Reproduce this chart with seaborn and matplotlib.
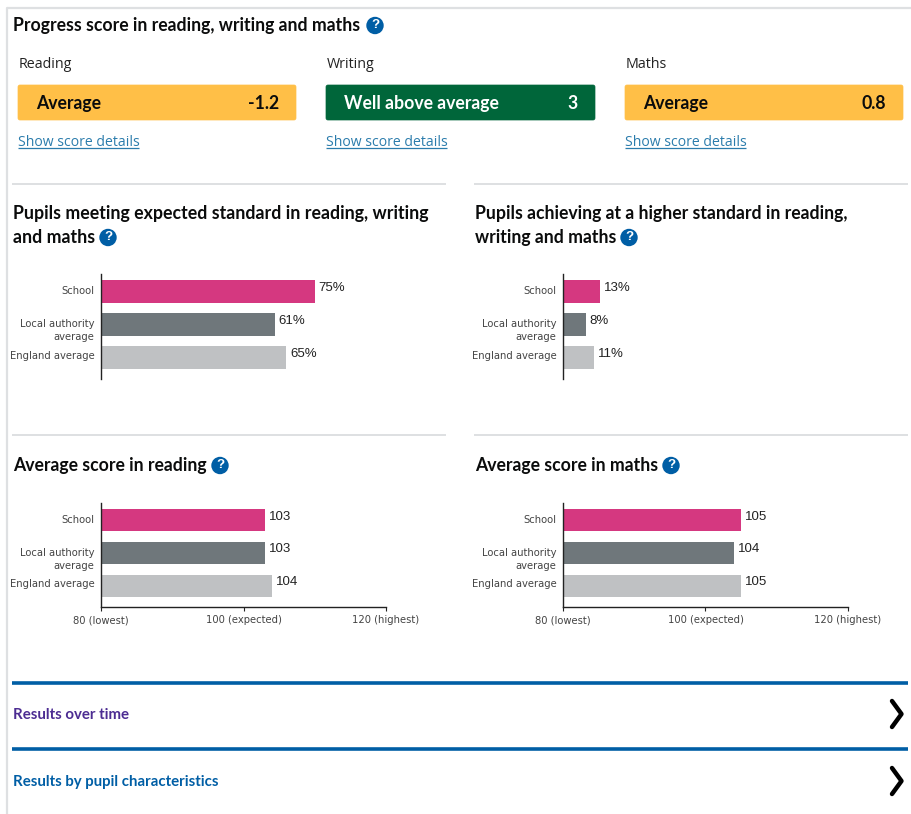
import matplotlib
matplotlib.use('Agg')
import matplotlib.pyplot as plt
from matplotlib.patches import Circle, FancyBboxPatch
from matplotlib.transforms import ScaledTranslation
import pandas as pd
import seaborn as sns

sns.set_theme(style="white")
plt.rcParams['font.family'] = ['DejaVu Sans']

# ── DATA ─────────────────────────────────────────
GROUPS = ["School", "Local authority\naverage", "England average"]
EXPECTED_PCT = [75, 61, 65]
HIGHER_PCT = [13, 8, 11]
READING_SCORE = [103, 103, 104]
MATHS_SCORE = [105, 104, 105]
SCORE_TICKS = [80, 100, 120]
SCORE_TICK_LABELS = ["80 (lowest)", "100 (expected)", "120 (highest)"]
SUBJECTS = ["Reading", "Writing", "Maths"]
BANDS = ["Average", "Well above average", "Average"]
PROGRESS = ["-1.2", "3", "0.8"]

W, H = 912, 814
PINK, DARK, LIGHT = "#D53880", "#6F777B", "#BFC1C3"
AMBER, GREEN = "#FFBF47", "#00663A"
BLUE, PURPLE, INK = "#005EA5", "#4C2C92", "#0B0C0C"
LINK = "#2B7CAC"
RULE = "#DEE0E2"
HEAD = "Lato"
BODY = "Open Sans"

fig = plt.figure(figsize=(W / 100, H / 100), dpi=100, facecolor="white")

# page layer, in pixels from the top left
page = fig.add_axes([0, 0, 1, 1])
page.set_xlim(0, W)
page.set_ylim(H, 0)
page.axis("off")


def rule(x0, x1, y, color=RULE, lw=1.4):
    page.plot([x0, x1], [y, y], color=color, lw=lw, solid_capstyle="butt")


def heading(x, y, lines, icon_x, size=12.7):
    # one text per line, the icon goes after the last one
    for i, line in enumerate(lines):
        page.text(x, y + i * 24, line, fontsize=size, fontweight="bold", family=HEAD,
                  color=INK, va="center", ha="left")
    icon_y = y + (len(lines) - 1) * 24
    page.add_patch(Circle((icon_x, icon_y), 8.7, color=BLUE, lw=0))
    page.text(icon_x, icon_y, "?", color="white", fontsize=9.5, fontweight="bold",
              ha="center", va="center", family="Liberation Sans")


# outer frame
page.plot([7.5, 7.5], [8, H], color=RULE, lw=1.6)
rule(7, W, 8, lw=1.6)

heading(13, 25.5, ["Progress score in reading, writing and maths"], 375)

# progress badges
for subject, band, score, x0, x1, bg, fg in zip(
        SUBJECTS, BANDS, PROGRESS, [18, 326, 625], [296, 595, 903],
        [AMBER, GREEN, AMBER], [INK, "white", INK]):
    page.text(x0 + 1, 65, subject, fontsize=10.3, family=BODY, color="#222222", va="center")
    page.add_patch(FancyBboxPatch((x0 + 1, 86), x1 - x0 - 2, 33, facecolor=bg, edgecolor=bg,
                                  lw=0.5, boxstyle="round,pad=1,rounding_size=2"))
    page.text(x0 + 18, 103.5, band, fontsize=12.7, fontweight="bold", family=HEAD, color=fg, va="center")
    page.text(x1 - 17, 103.5, score, fontsize=12.7, fontweight="bold", family=HEAD, color=fg,
              va="center", ha="right")
    page.text(x0, 143, "Show score details", fontsize=10.1, family=BODY, color=LINK, va="center")
    rule(x0, x0 + 121, 148, color=LINK, lw=0.9)

for y in (183.5, 435):
    rule(12, 446, y)
    rule(474, 908, y)

heading(13, 213.5, ["Pupils meeting expected standard in reading, writing", "and maths"], 108, size=12.8)
heading(475, 213.5, ["Pupils achieving at a higher standard in reading,", "writing and maths"], 629)
heading(13, 465.5, ["Average score in reading"], 220)
heading(475, 465.5, ["Average score in maths"], 671)

rule(12, 908, 682.5, color=BLUE, lw=2.6)
rule(12, 908, 748.5, color=BLUE, lw=2.6)
page.text(13, 715, "Results over time", fontsize=10.8, fontweight="bold", family=HEAD, color=PURPLE, va="center")
page.text(13, 782, "Results by pupil characteristics", fontsize=10.8, fontweight="bold", family=HEAD, color=BLUE, va="center")
for y in (714, 781):
    page.plot([892, 901.5, 892], [y - 13, y, y + 13], color="black", lw=3.2,
              solid_capstyle="round", solid_joinstyle="round")


def bar_panel(left, top, bottom, values, xlim, suffix="", ticks=None, tick_labels=None):
    ax = fig.add_axes([left / W, 1 - bottom / H, 285 / W, (bottom - top) / H])
    df = pd.DataFrame({"group": GROUPS, "value": values})
    sns.barplot(data=df, y="group", x="value", hue="group", palette=[PINK, DARK, LIGHT],
                dodge=False, legend=False, width=0.68, saturation=1, ax=ax, linewidth=0)
    ax.set_xlim(*xlim)
    ax.set_ylim(2.65, -0.53)
    ax.set_xlabel("")
    ax.set_ylabel("")
    ax.patch.set_alpha(0)
    sns.despine(ax=ax, right=True, top=True, bottom=ticks is None)
    for side in ("left", "bottom"):
        ax.spines[side].set_color("#222222")
        ax.spines[side].set_linewidth(1.0)
    ax.tick_params(axis="y", length=0, pad=4.7, labelsize=7.2, labelcolor="#444444")
    # category labels sit a little off the bar centres
    for lab, dy in zip(ax.get_yticklabels(), [1.5, -3.5, 2.5]):
        lab.set_linespacing(1.4)
        lab.set_transform(lab.get_transform() + ScaledTranslation(0, dy / 100, fig.dpi_scale_trans))
    if ticks is None:
        ax.set_xticks([])
    else:
        ax.set_xticks(ticks)
        ax.set_xticklabels(tick_labels)
        ax.tick_params(axis="x", length=3, width=0.8, color="#222222", pad=2.8,
                       labelsize=7.2, labelcolor="#444444", bottom=True)
    for i, v in enumerate(values):
        ax.annotate(f"{v}{suffix}", (v, i), xytext=(2.8, 2.6), textcoords="offset points",
                    fontsize=9.5, family="Liberation Sans", color="#222222", va="center", ha="left")
    return ax


bar_panel(101, 274, 379, EXPECTED_PCT, (0, 100), "%")
bar_panel(563, 274, 379, HIGHER_PCT, (0, 100), "%")
bar_panel(101, 503, 607, READING_SCORE, (80, 120), "", SCORE_TICKS, SCORE_TICK_LABELS)
bar_panel(563, 503, 607, MATHS_SCORE, (80, 120), "", SCORE_TICKS, SCORE_TICK_LABELS)

fig.savefig("out.png", dpi=100)
